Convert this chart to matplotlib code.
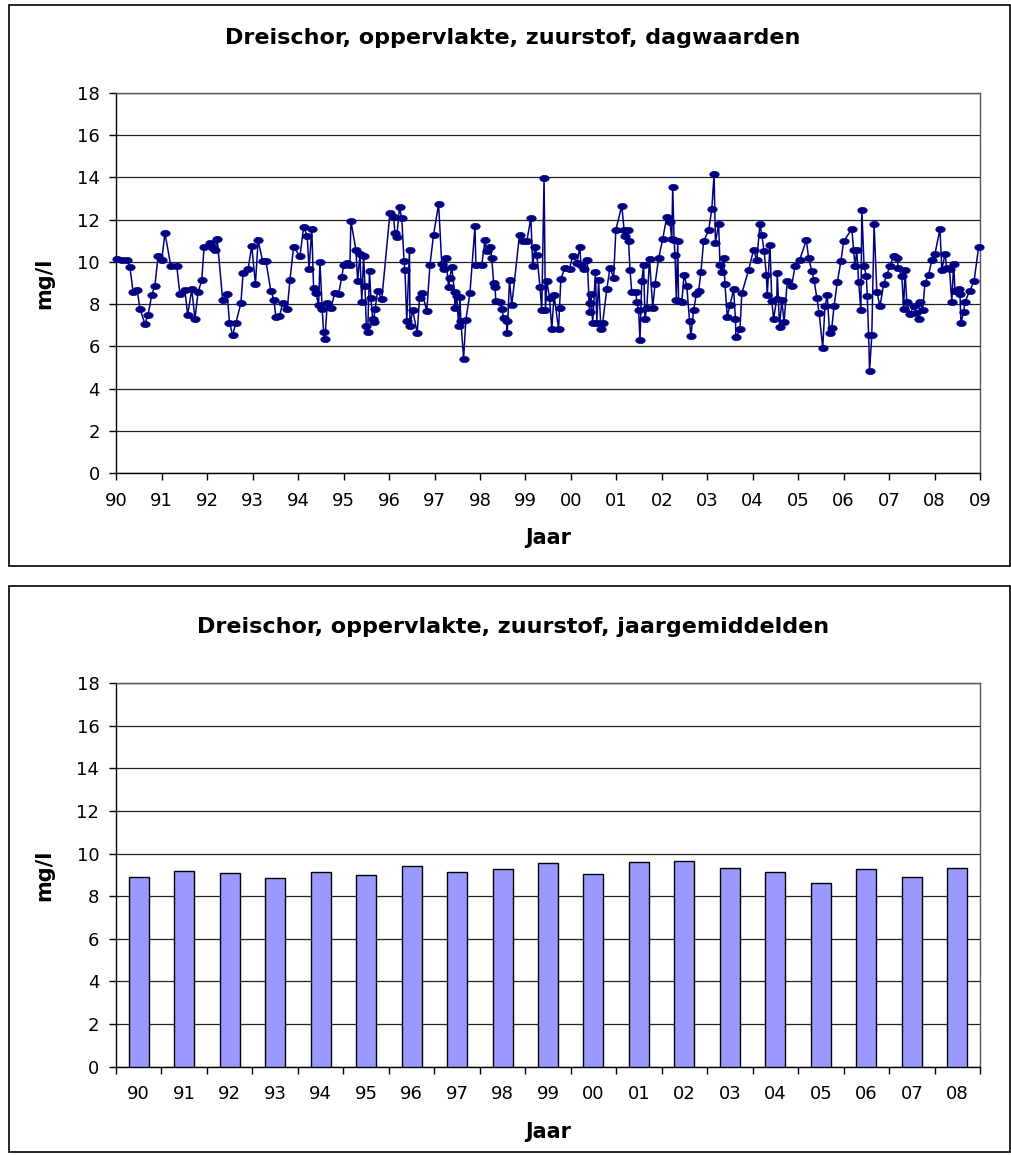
import matplotlib
matplotlib.use("Agg")
import matplotlib.pyplot as plt
from matplotlib.path import Path
from matplotlib.transforms import Affine2D
from matplotlib.patches import Rectangle

# ---- data -------------------------------------------------------------
# daily measurements: decimal year and dissolved oxygen (mg/l)
dag_jaar = [
    1990.01, 1990.12, 1990.23, 1990.30, 1990.37, 1990.46, 1990.52, 1990.63, 1990.70, 1990.78,
    1990.85, 1990.92, 1991.00, 1991.07, 1991.20, 1991.33, 1991.40, 1991.51, 1991.57, 1991.66,
    1991.73, 1991.80, 1991.88, 1991.93, 1992.06, 1992.12, 1992.17, 1992.22, 1992.34, 1992.44,
    1992.49, 1992.56, 1992.63, 1992.74, 1992.79, 1992.90, 1992.98, 1993.06, 1993.12, 1993.22,
    1993.29, 1993.40, 1993.47, 1993.51, 1993.59, 1993.66, 1993.76, 1993.82, 1993.90, 1994.04,
    1994.12, 1994.20, 1994.24, 1994.30, 1994.34, 1994.39, 1994.45, 1994.48, 1994.53, 1994.56,
    1994.59, 1994.64, 1994.72, 1994.81, 1994.89, 1994.96, 1995.00, 1995.07, 1995.14, 1995.16,
    1995.27, 1995.31, 1995.36, 1995.40, 1995.44, 1995.47, 1995.50, 1995.53, 1995.57, 1995.60,
    1995.64, 1995.66, 1995.69, 1995.75, 1995.84, 1996.02, 1996.10, 1996.13, 1996.17, 1996.23,
    1996.28, 1996.33, 1996.35, 1996.39, 1996.45, 1996.46, 1996.52, 1996.62, 1996.67, 1996.73,
    1996.83, 1996.90, 1996.98, 1997.09, 1997.16, 1997.20, 1997.25, 1997.31, 1997.34, 1997.38,
    1997.44, 1997.45, 1997.49, 1997.53, 1997.56, 1997.58, 1997.64, 1997.69, 1997.78, 1997.89,
    1997.91, 1998.04, 1998.11, 1998.15, 1998.22, 1998.26, 1998.30, 1998.33, 1998.35, 1998.44,
    1998.48, 1998.52, 1998.59, 1998.60, 1998.65, 1998.70, 1998.87, 1998.94, 1999.03, 1999.12,
    1999.16, 1999.21, 1999.25, 1999.32, 1999.36, 1999.41, 1999.44, 1999.47, 1999.53, 1999.58,
    1999.63, 1999.73, 1999.75, 1999.78, 1999.87, 1999.97, 2000.04, 2000.13, 2000.20, 2000.22,
    2000.28, 2000.36, 2000.41, 2000.42, 2000.44, 2000.48, 2000.54, 2000.57, 2000.61, 2000.66,
    2000.70, 2000.79, 2000.86, 2000.94, 2000.99, 2001.12, 2001.17, 2001.19, 2001.25, 2001.27,
    2001.30, 2001.34, 2001.43, 2001.45, 2001.49, 2001.52, 2001.56, 2001.60, 2001.63, 2001.67,
    2001.73, 2001.80, 2001.85, 2001.93, 2002.02, 2002.11, 2002.18, 2002.22, 2002.24, 2002.27,
    2002.29, 2002.32, 2002.35, 2002.37, 2002.44, 2002.49, 2002.55, 2002.61, 2002.64, 2002.70,
    2002.76, 2002.81, 2002.86, 2002.92, 2003.03, 2003.10, 2003.15, 2003.18, 2003.25, 2003.28,
    2003.32, 2003.36, 2003.39, 2003.44, 2003.50, 2003.58, 2003.62, 2003.63, 2003.72, 2003.76,
    2003.91, 2004.02, 2004.09, 2004.16, 2004.20, 2004.25, 2004.30, 2004.32, 2004.38, 2004.42,
    2004.46, 2004.53, 2004.54, 2004.59, 2004.64, 2004.69, 2004.76, 2004.86, 2004.93, 2005.03,
    2005.18, 2005.23, 2005.30, 2005.35, 2005.41, 2005.46, 2005.54, 2005.59, 2005.64, 2005.69,
    2005.74, 2005.79, 2005.86, 2005.94, 2006.00, 2006.18, 2006.22, 2006.25, 2006.29, 2006.33,
    2006.38, 2006.40, 2006.45, 2006.50, 2006.52, 2006.55, 2006.57, 2006.62, 2006.67, 2006.73,
    2006.80, 2006.88, 2006.95, 2007.02, 2007.10, 2007.18, 2007.20, 2007.28, 2007.32, 2007.35,
    2007.39, 2007.46, 2007.54, 2007.60, 2007.65, 2007.68, 2007.74, 2007.79, 2007.87, 2007.94,
    2008.01, 2008.12, 2008.16, 2008.23, 2008.27, 2008.33, 2008.38, 2008.42, 2008.45, 2008.53,
    2008.56, 2008.58, 2008.64, 2008.67, 2008.77, 2008.87, 2008.97,
]
dag_waarde = [
    10.14, 10.10, 10.08, 9.75, 8.57, 8.66, 7.78, 7.06, 7.50, 8.43,
    8.88, 10.30, 10.08, 11.37, 9.80, 9.80, 8.46, 8.65, 7.48, 8.70,
    7.31, 8.57, 9.14, 10.69, 10.90, 10.65, 10.58, 11.08, 8.18, 8.49,
    7.12, 6.53, 7.12, 8.03, 9.48, 9.67, 10.77, 8.95, 11.02, 10.03,
    10.06, 8.62, 8.18, 7.39, 7.44, 8.03, 7.75, 9.14, 10.71, 10.27,
    11.64, 11.24, 9.67, 11.56, 8.77, 8.54, 7.94, 9.98, 7.75, 6.68,
    6.34, 8.03, 7.83, 8.54, 8.49, 9.28, 9.83, 9.95, 9.87, 11.95,
    10.58, 9.09, 10.38, 8.10, 10.30, 8.85, 6.97, 6.68, 9.59, 8.30,
    7.31, 7.15, 7.75, 8.62, 8.22, 12.31, 12.15, 11.37, 11.18, 12.58,
    12.08, 10.03, 9.60, 7.20, 10.58, 6.97, 7.72, 6.62, 8.30, 8.54,
    7.67, 9.87, 11.29, 12.74, 9.90, 9.67, 10.19, 8.82, 9.25, 9.75,
    8.57, 7.83, 8.38, 6.97, 8.35, 7.20, 5.42, 7.25, 8.54, 11.68,
    9.87, 9.87, 11.02, 10.50, 10.71, 10.19, 9.00, 8.82, 8.14, 8.10,
    7.75, 7.36, 7.20, 6.62, 9.14, 7.94, 11.29, 10.97, 10.97, 12.08,
    9.80, 10.71, 10.35, 8.82, 7.72, 13.96, 7.72, 9.09, 8.30, 6.81,
    8.41, 6.81, 7.83, 9.20, 9.72, 9.67, 10.30, 9.95, 10.71, 9.83,
    9.64, 10.11, 7.63, 8.03, 8.46, 7.09, 9.51, 7.12, 9.14, 6.81,
    7.12, 8.70, 9.72, 9.25, 11.53, 12.66, 11.53, 11.24, 11.53, 10.97,
    9.60, 8.57, 8.57, 8.10, 7.72, 6.29, 9.09, 9.87, 7.31, 7.83,
    10.14, 7.83, 8.93, 10.17, 11.08, 12.15, 11.87, 11.08, 13.57, 11.05,
    10.35, 8.19, 10.97, 8.14, 8.10, 9.40, 8.85, 7.20, 6.49, 7.72,
    8.46, 8.62, 9.51, 10.97, 11.49, 12.50, 14.17, 10.90, 11.81, 9.83,
    9.51, 10.19, 8.93, 7.41, 7.94, 8.70, 7.28, 6.42, 6.81, 8.51,
    9.61, 10.58, 10.08, 11.81, 11.29, 10.50, 9.40, 8.41, 10.82, 8.14,
    7.31, 8.25, 9.48, 6.93, 8.19, 7.15, 9.09, 8.88, 9.80, 10.08,
    11.02, 10.19, 9.56, 9.14, 8.30, 7.59, 5.94, 7.91, 8.41, 6.65,
    6.89, 7.91, 9.04, 10.03, 10.97, 11.56, 10.55, 9.80, 10.55, 9.04,
    7.72, 12.47, 9.80, 9.32, 8.38, 6.53, 4.84, 6.53, 11.81, 8.57,
    7.91, 8.93, 9.40, 9.80, 10.30, 10.19, 9.72, 9.32, 7.78, 9.60,
    8.10, 7.52, 7.91, 7.59, 7.31, 8.10, 7.72, 9.01, 9.40, 10.08,
    10.39, 11.56, 9.60, 10.39, 9.72, 9.64, 8.10, 9.92, 8.62, 8.73,
    8.46, 7.09, 7.63, 8.10, 8.62, 9.09, 10.71,
]

# annual means
jaren = ["90", "91", "92", "93", "94", "95", "96", "97", "98", "99",
         "00", "01", "02", "03", "04", "05", "06", "07", "08"]
jaargemiddelde = [8.92, 9.19, 9.08, 8.87, 9.13, 9.00, 9.41, 9.14, 9.27, 9.54,
                  9.02, 9.60, 9.67, 9.33, 9.13, 8.60, 9.27, 8.92, 9.33]

# x tick labels of the daily chart
jaar_labels = ["90", "91", "92", "93", "94", "95", "96", "97", "98", "99",
               "00", "01", "02", "03", "04", "05", "06", "07", "08", "09"]

# ---- styling ----------------------------------------------------------
plt.rcParams["font.family"] = ["DejaVu Sans"]
W, H = 1012, 1156
fig = plt.figure(figsize=(W / 100, H / 100), dpi=100)
fig.patch.set_facecolor("white")

NAVY = "#000080"
TICK_FS = 13
TITLE_FS = 16
LABEL_FS = 15


def fx(px):
    return px / W


def fy(py):
    return 1 - py / H


# chart frames
for (x0, y0, x1, y1) in [(9, 5, 1010, 566), (9, 586, 1010, 1152)]:
    fig.patches.append(Rectangle((fx(x0), fy(y1)), fx(x1 - x0), (y1 - y0) / H,
                                 transform=fig.transFigure, fill=False,
                                 edgecolor="black", linewidth=1.2))


def style_axes(ax):
    ax.set_ylim(0, 18)
    ax.set_yticks(range(0, 19, 2))
    ax.grid(axis="y", color="#222222", linewidth=0.9)
    ax.set_axisbelow(True)
    for side in ("left", "bottom"):
        ax.spines[side].set_color("black")
        ax.spines[side].set_linewidth(1.0)
    for side in ("top", "right"):
        ax.spines[side].set_color("#555555")
        ax.spines[side].set_linewidth(1.0)
    ax.tick_params(axis="y", direction="out", length=5, width=1, pad=7,
                   labelsize=TICK_FS)
    ax.set_ylabel("mg/l", fontsize=LABEL_FS, fontweight="bold", labelpad=16)


# ---- daily values -----------------------------------------------------
ax1 = fig.add_axes([fx(116.3), fy(473), fx(980 - 116.3), (473 - 93) / H])
style_axes(ax1)
ax1.set_xlim(1990, 2009)
ax1.set_xticks(range(1990, 2010))
ax1.set_xticklabels(jaar_labels)
ax1.tick_params(axis="x", direction="out", length=5, width=1, pad=9,
                labelsize=TICK_FS)
ellipse = Path.unit_circle().transformed(Affine2D().scale(1.0, 0.66))
ax1.plot(dag_jaar, dag_waarde, color=NAVY, linewidth=1.1, marker=ellipse,
         markersize=6.8, markerfacecolor=NAVY, markeredgecolor=NAVY,
         markeredgewidth=0.5, clip_on=False, zorder=3)
ax1.set_xlabel("Jaar", fontsize=LABEL_FS, fontweight="bold", labelpad=13)
fig.text(fx(513), fy(38), "Dreischor, oppervlakte, zuurstof, dagwaarden",
         ha="center", va="center", fontsize=TITLE_FS, fontweight="bold")

# ---- annual means -----------------------------------------------------
ax2 = fig.add_axes([fx(116), fy(1066.7), fx(980 - 116), (1066.7 - 683) / H])
style_axes(ax2)
pos = list(range(len(jaren)))
ax2.bar(pos, jaargemiddelde, width=0.44, color="#9999FF", edgecolor="black",
        linewidth=1.0, zorder=3)
ax2.set_xlim(-0.5, len(jaren) - 0.5)
ax2.set_xticks(pos)
ax2.set_xticklabels(jaren)
ax2.set_xticks([p - 0.5 for p in pos] + [len(jaren) - 0.5], minor=True)
ax2.tick_params(axis="x", which="major", length=0, pad=13, labelsize=TICK_FS)
ax2.tick_params(axis="x", which="minor", direction="out", length=5, width=1)
ax2.set_xlabel("Jaar", fontsize=LABEL_FS, fontweight="bold", labelpad=14)
fig.text(fx(513), fy(627), "Dreischor, oppervlakte, zuurstof, jaargemiddelden",
         ha="center", va="center", fontsize=TITLE_FS, fontweight="bold")

fig.savefig("out.png", dpi=100, facecolor="white")
